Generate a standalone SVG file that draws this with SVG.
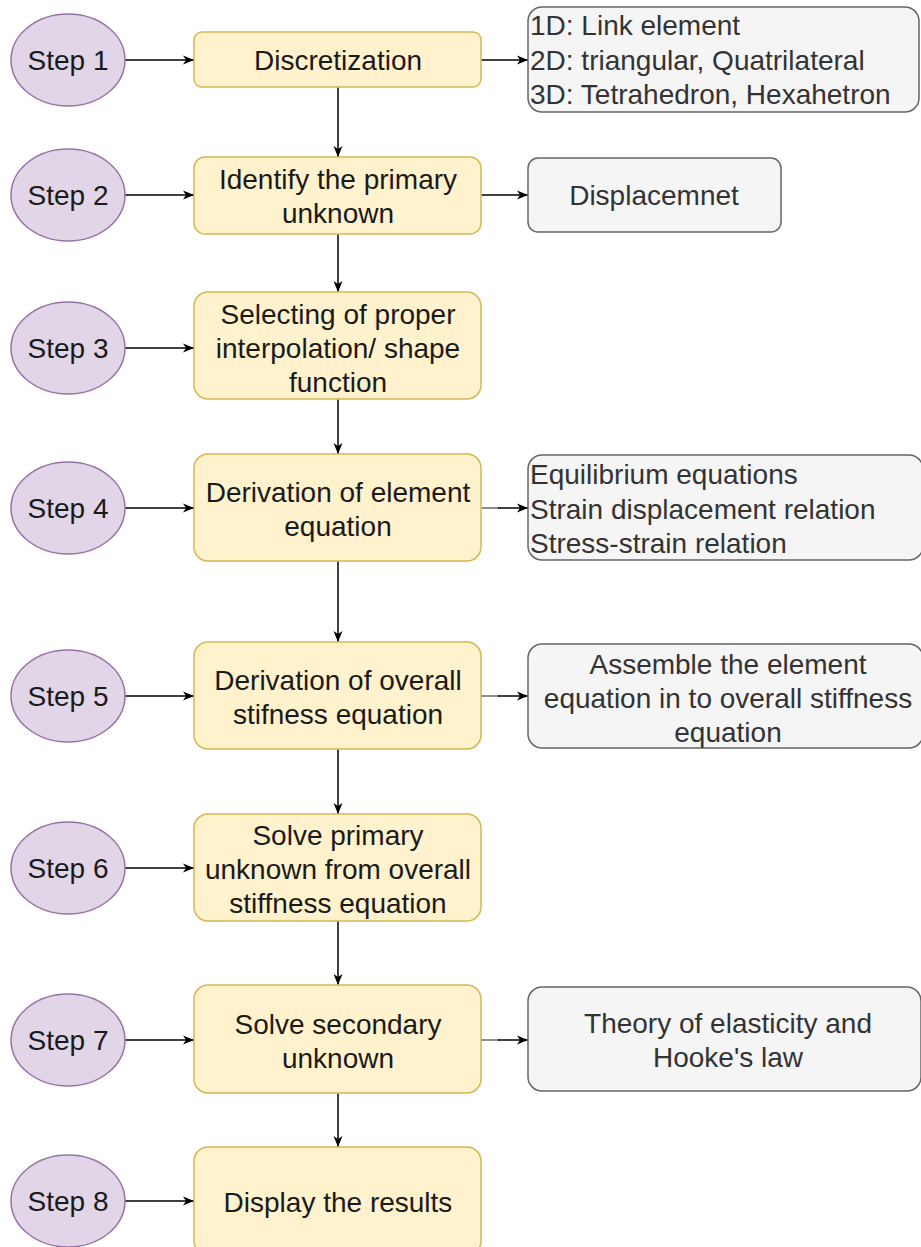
<svg xmlns="http://www.w3.org/2000/svg" width="921" height="1247" viewBox="0 0 921 1247">
<style>
.step{fill:#e1d5e7;stroke:#9673a6;stroke-width:1.5}
.box{fill:#fff2cc;stroke:#d6b656;stroke-width:1.5}
.note{fill:#f5f5f5;stroke:#666666;stroke-width:1.5}
text{font-family:"Liberation Sans",Arial,sans-serif;font-size:28px}
.t{fill:#1a1a1a;text-anchor:middle}
.n{fill:#333333}
.nc{fill:#333333;text-anchor:middle}
.e{fill:none;stroke:#000;stroke-width:1.5}
.g{fill:none;stroke:#666;stroke-width:1.5}
</style>
<defs>
<marker id="arr" markerUnits="userSpaceOnUse" markerWidth="12" markerHeight="10" refX="11" refY="5" orient="auto">
<path d="M0,0.5 L11,5 L0,9.5 L3,5 z" fill="#000"/>
</marker>
</defs>
<g id="connectors">
<path class="e" d="M125,60 H194" marker-end="url(#arr)"/>
<path class="e" d="M125,195 H194" marker-end="url(#arr)"/>
<path class="e" d="M125,348 H194" marker-end="url(#arr)"/>
<path class="e" d="M125,508 H194" marker-end="url(#arr)"/>
<path class="e" d="M125,696 H194" marker-end="url(#arr)"/>
<path class="e" d="M125,868 H194" marker-end="url(#arr)"/>
<path class="e" d="M125,1040 H194" marker-end="url(#arr)"/>
<path class="e" d="M125,1201 H194" marker-end="url(#arr)"/>
<path class="e" d="M338,87 V157" marker-end="url(#arr)"/>
<path class="e" d="M338,234 V292" marker-end="url(#arr)"/>
<path class="e" d="M338,399 V454" marker-end="url(#arr)"/>
<path class="e" d="M338,561 V642" marker-end="url(#arr)"/>
<path class="e" d="M338,749 V814" marker-end="url(#arr)"/>
<path class="e" d="M338,921 V985" marker-end="url(#arr)"/>
<path class="e" d="M338,1093 V1147" marker-end="url(#arr)"/>
<path class="e" d="M481,60 H528" marker-end="url(#arr)"/>
<path class="e" d="M481,195 H528" marker-end="url(#arr)"/>
<path class="g" d="M481,508 H499"/>
<path class="e" d="M498,508 H528" marker-end="url(#arr)"/>
<path class="g" d="M481,696 H499"/>
<path class="e" d="M498,696 H528" marker-end="url(#arr)"/>
<path class="g" d="M481,1040 H499"/>
<path class="e" d="M498,1040 H528" marker-end="url(#arr)"/>
</g>
<g id="step1"><ellipse class="step" cx="68" cy="60" rx="57" ry="46"/><text class="t" x="68" y="70">Step 1</text></g>
<g id="step2"><ellipse class="step" cx="68" cy="195" rx="57" ry="46"/><text class="t" x="68" y="205">Step 2</text></g>
<g id="step3"><ellipse class="step" cx="68" cy="348" rx="57" ry="46"/><text class="t" x="68" y="358">Step 3</text></g>
<g id="step4"><ellipse class="step" cx="68" cy="508" rx="57" ry="46"/><text class="t" x="68" y="518">Step 4</text></g>
<g id="step5"><ellipse class="step" cx="68" cy="696" rx="57" ry="46"/><text class="t" x="68" y="706">Step 5</text></g>
<g id="step6"><ellipse class="step" cx="68" cy="868" rx="57" ry="46"/><text class="t" x="68" y="878">Step 6</text></g>
<g id="step7"><ellipse class="step" cx="68" cy="1040" rx="57" ry="46"/><text class="t" x="68" y="1050">Step 7</text></g>
<g id="step8"><ellipse class="step" cx="68" cy="1201" rx="57" ry="46"/><text class="t" x="68" y="1211">Step 8</text></g>
<g id="discretization"><rect class="box" x="194" y="32" width="287" height="55" rx="8"/><text class="t" x="338" y="70">Discretization</text></g>
<g id="identify"><rect class="box" x="194" y="157" width="287" height="77" rx="11"/><text class="t" x="338" y="189">Identify the primary</text><text class="t" x="338" y="223">unknown</text></g>
<g id="selecting"><rect class="box" x="194" y="292" width="287" height="107" rx="14"/><text class="t" x="338" y="324">Selecting of proper</text><text class="t" x="338" y="358">interpolation/ shape</text><text class="t" x="338" y="392">function</text></g>
<g id="element-eq"><rect class="box" x="194" y="454" width="287" height="107" rx="14"/><text class="t" x="338" y="502">Derivation of element</text><text class="t" x="338" y="536">equation</text></g>
<g id="overall-eq"><rect class="box" x="194" y="642" width="287" height="107" rx="14"/><text class="t" x="338" y="690">Derivation of overall</text><text class="t" x="338" y="724">stifness equation</text></g>
<g id="solve-primary"><rect class="box" x="194" y="814" width="287" height="107" rx="14"/><text class="t" x="338" y="845">Solve primary</text><text class="t" x="338" y="879">unknown from overall</text><text class="t" x="338" y="913">stiffness equation</text></g>
<g id="solve-secondary"><rect class="box" x="194" y="985" width="287" height="108" rx="14"/><text class="t" x="338" y="1034">Solve secondary</text><text class="t" x="338" y="1068">unknown</text></g>
<g id="display"><rect class="box" x="194" y="1147" width="287" height="108" rx="14"/><text class="t" x="338" y="1212">Display the results</text></g>
<g id="note-elements"><rect class="note" x="528" y="7" width="391" height="105" rx="14"/><text class="n" x="530" y="35">1D: Link element</text><text class="n" x="530" y="70">2D: triangular, Quatrilateral</text><text class="n" x="530" y="104">3D: Tetrahedron, Hexahetron</text></g>
<g id="note-displacement"><rect class="note" x="528" y="158" width="253" height="74" rx="10"/><text class="nc" x="654" y="205">Displacemnet</text></g>
<g id="note-relations"><rect class="note" x="528" y="455" width="395" height="105" rx="14"/><text class="n" x="530" y="484">Equilibrium equations</text><text class="n" x="530" y="519">Strain displacement relation</text><text class="n" x="530" y="553">Stress-strain relation</text></g>
<g id="note-assemble"><rect class="note" x="528" y="644" width="395" height="104" rx="14"/><text class="nc" x="728" y="674">Assemble the element</text><text class="nc" x="728" y="708">equation in to overall stiffness</text><text class="nc" x="728" y="742">equation</text></g>
<g id="note-theory"><rect class="note" x="528" y="987" width="393" height="104" rx="14"/><text class="nc" x="728" y="1033">Theory of elasticity and</text><text class="nc" x="728" y="1067">Hooke's law</text></g>
</svg>
